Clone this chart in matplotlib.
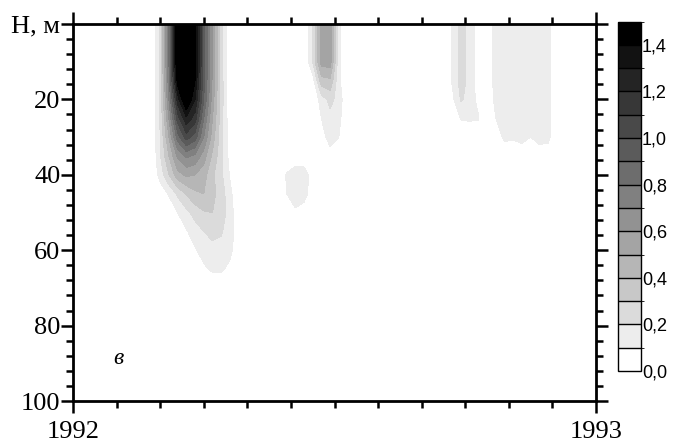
import numpy as np
import matplotlib
matplotlib.use('Agg')
import matplotlib.pyplot as plt
from matplotlib.colors import ListedColormap, BoundaryNorm
from matplotlib.cm import ScalarMappable

# depth levels, m
depth = [0, 10, 15, 20, 25, 30, 35, 40, 45, 50, 55, 60, 65, 70, 100]

# months since 1 Jan 1992 for each patch, values by depth row
spring_months = [1.8, 2.0, 2.2, 2.4, 2.6, 2.8, 3.0, 3.2, 3.4, 3.6, 3.8, 4.0]
spring = [
    [0, 0.22, 0.80, 1.55, 2.00, 1.45, 0.95, 0.60, 0.25, 0.00, 0, 0],
    [0, 0.22, 0.80, 1.55, 2.00, 1.45, 0.95, 0.60, 0.25, 0.00, 0, 0],
    [0, 0.22, 0.76, 1.45, 1.85, 1.40, 0.93, 0.58, 0.25, 0.01, 0, 0],
    [0, 0.22, 0.70, 1.25, 1.55, 1.30, 0.90, 0.55, 0.25, 0.02, 0, 0],
    [0, 0.21, 0.60, 1.05, 1.28, 1.15, 0.80, 0.50, 0.24, 0.03, 0, 0],
    [0, 0.20, 0.50, 0.85, 1.05, 0.95, 0.70, 0.45, 0.24, 0.04, 0, 0],
    [0, 0.19, 0.40, 0.62, 0.72, 0.68, 0.55, 0.38, 0.23, 0.06, 0, 0],
    [0, 0.14, 0.30, 0.46, 0.52, 0.50, 0.44, 0.32, 0.22, 0.09, 0, 0],
    [0, 0.04, 0.11, 0.22, 0.31, 0.38, 0.40, 0.33, 0.25, 0.13, 0, 0],
    [0, 0, 0.03, 0.10, 0.17, 0.24, 0.29, 0.30, 0.26, 0.15, 0.02, 0],
    [0, 0, 0, 0.03, 0.09, 0.15, 0.20, 0.23, 0.21, 0.15, 0.04, 0],
    [0, 0, 0, 0, 0.03, 0.09, 0.14, 0.17, 0.17, 0.13, 0.02, 0],
    [0, 0, 0, 0, 0, 0.03, 0.08, 0.12, 0.12, 0.07, 0, 0],
    [0, 0, 0, 0, 0, 0, 0, 0, 0, 0, 0, 0],
    [0, 0, 0, 0, 0, 0, 0, 0, 0, 0, 0, 0],
]

summer_months = [4.7, 4.9, 5.1, 5.3, 5.5, 5.7, 5.9, 6.1, 6.3]
summer = [
    [0, 0, 0, 0, 0.20, 0.55, 0.55, 0.12, 0],
    [0, 0, 0, 0, 0.20, 0.55, 0.55, 0.12, 0],
    [0, 0, 0, 0, 0.05, 0.36, 0.38, 0.12, 0],
    [0, 0, 0, 0, 0, 0.15, 0.23, 0.16, 0],
    [0, 0, 0, 0, 0, 0.10, 0.17, 0.13, 0],
    [0, 0, 0, 0, 0, 0.06, 0.14, 0.10, 0],
    [0, 0, 0, 0, 0, 0, 0.06, 0.03, 0],
    [0, 0.11, 0.18, 0.17, 0.03, 0, 0, 0, 0],
    [0, 0.10, 0.19, 0.16, 0.02, 0, 0, 0, 0],
    [0, 0, 0.07, 0.03, 0, 0, 0, 0, 0],
    [0, 0, 0, 0, 0, 0, 0, 0, 0],
    [0, 0, 0, 0, 0, 0, 0, 0, 0],
    [0, 0, 0, 0, 0, 0, 0, 0, 0],
    [0, 0, 0, 0, 0, 0, 0, 0, 0],
    [0, 0, 0, 0, 0, 0, 0, 0, 0],
]

autumn_months = [8.5, 8.7, 8.9, 9.1, 9.3, 9.45]
autumn = [
    [0, 0.11, 0.24, 0.17, 0.05, 0],
    [0, 0.11, 0.24, 0.17, 0.05, 0],
    [0, 0.11, 0.24, 0.17, 0.05, 0],
    [0, 0.07, 0.21, 0.17, 0.06, 0],
    [0, 0, 0.11, 0.12, 0.11, 0],
] + [[0] * 6] * 10

late_months = [9.55, 9.7, 9.9, 10.1, 10.3, 10.5, 10.7, 10.9, 11.1]
late = [
    [0, 0.19, 0.17, 0.17, 0.17, 0.17, 0.17, 0.13, 0],
    [0, 0.19, 0.17, 0.17, 0.17, 0.17, 0.17, 0.13, 0],
    [0, 0.19, 0.17, 0.17, 0.17, 0.17, 0.17, 0.13, 0],
    [0, 0.15, 0.17, 0.17, 0.17, 0.17, 0.17, 0.13, 0],
    [0, 0.10, 0.17, 0.17, 0.17, 0.17, 0.17, 0.13, 0],
    [0, 0.02, 0.13, 0.12, 0.15, 0.10, 0.15, 0.13, 0],
    [0, 0, 0, 0, 0, 0, 0.02, 0.04, 0],
] + [[0] * 9] * 8

levels = np.round(np.arange(0, 1.51, 0.1), 2)
cb_ticks = [0.0, 0.2, 0.4, 0.6, 0.8, 1.0, 1.2, 1.4]

months = np.concatenate([[0.0], spring_months, summer_months,
                         autumn_months, late_months, [12.0]])
zero_col = np.zeros((len(depth), 1))
z = np.hstack([zero_col, np.array(spring), np.array(summer),
               np.array(autumn), np.array(late), zero_col])

grays = [(1 - i / 14,) * 3 for i in range(15)]
cmap = ListedColormap(grays)
cmap.set_over('black')

fig = plt.figure(figsize=(6.79, 4.46), dpi=100)
ax = fig.add_axes([73 / 679, 45 / 446, 523 / 679, 377 / 446])
ax.contourf(months, depth, z, levels=levels, cmap=cmap, extend='max')

ax.set_xlim(0, 12)
ax.set_ylim(100, 0)
ax.set_xticks([0, 12])
ax.set_xticklabels(['1992', '1993'])
ax.set_xticks(range(1, 12), minor=True)
ax.set_yticks(range(0, 101, 20))
ax.set_yticklabels(['H, м', '20', '40', '60', '80', '100'])
ax.set_yticks(range(0, 101, 4), minor=True)
ax.tick_params(which='both', direction='out', top=True, right=True, width=1.8)
ax.tick_params(which='major', length=8.6)
ax.tick_params(which='minor', length=5)
ax.tick_params(axis='x', which='major', pad=6)
ax.tick_params(axis='y', which='major', pad=0.5)
for lab in ax.get_xticklabels() + ax.get_yticklabels():
    lab.set_family('Liberation Serif')
    lab.set_fontsize(19)
for sp in ax.spines.values():
    sp.set_linewidth(2)

ax.text(1.03, 88.6, 'в', family='Liberation Serif', style='italic',
        fontsize=17, ha='center', va='center')

# colour scale
cax = fig.add_axes([618 / 679, 75 / 446, 22.5 / 679, 349.5 / 446])
sm = ScalarMappable(norm=BoundaryNorm(levels, cmap.N), cmap=cmap)
cb = fig.colorbar(sm, cax=cax, drawedges=True, ticks=cb_ticks)
cb.set_ticklabels([('%.1f' % t).replace('.', ',') for t in cb_ticks])
cb.outline.set_linewidth(1)
cb.dividers.set_linewidth(1)
cb.dividers.set_color('black')
cax.tick_params(length=0, pad=1)
for lab in cax.get_yticklabels():
    lab.set_family('Liberation Sans')
    lab.set_fontsize(13)

fig.savefig('out.png', dpi=100)
